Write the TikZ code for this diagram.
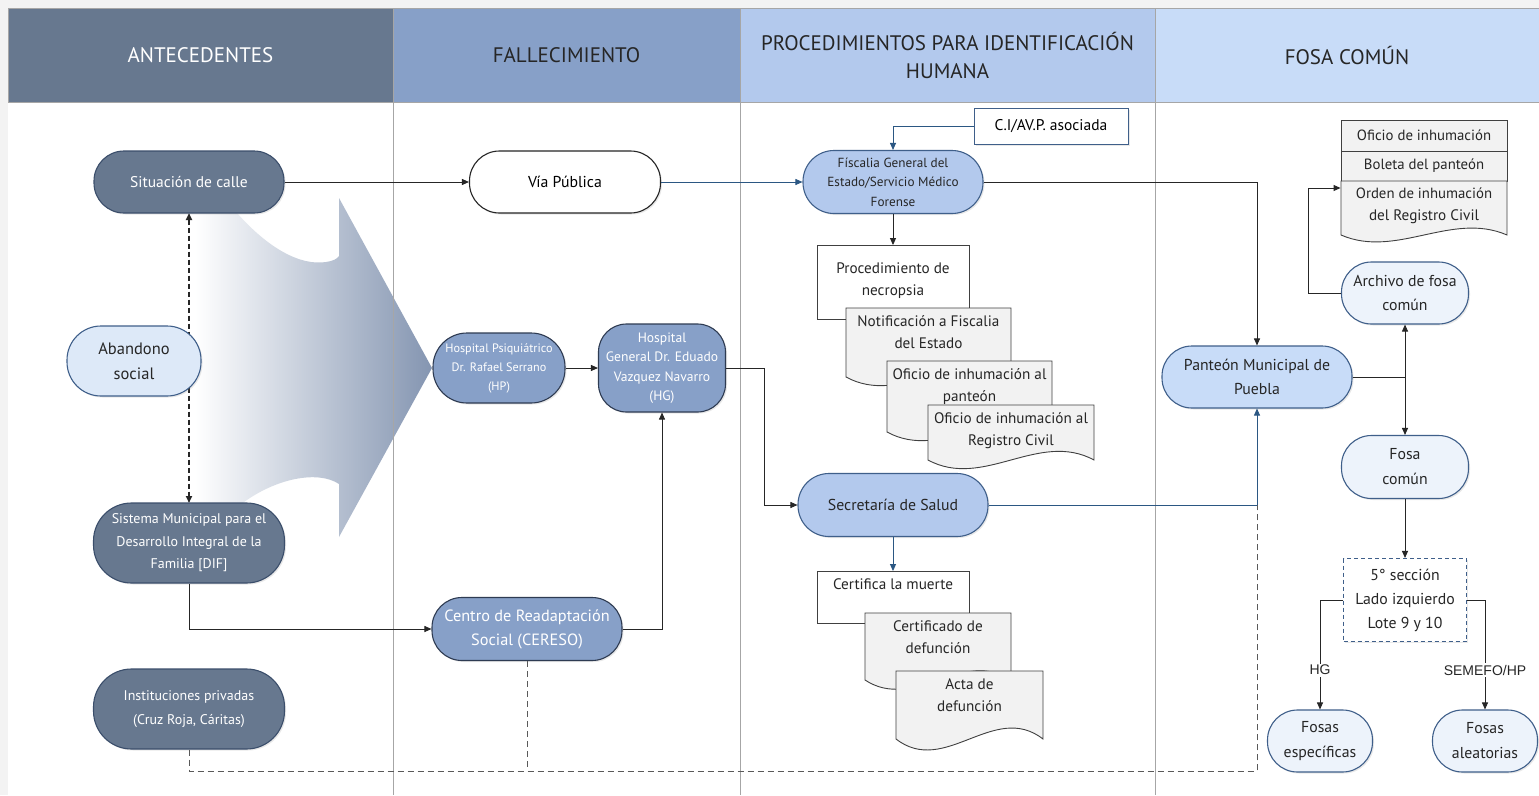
\documentclass[tikz,border=0pt]{standalone}
\usepackage{fontspec}
\setmainfont{PT Sans}
\newfontfamily\lblfont{Liberation Sans}
\usetikzlibrary{arrows.meta,shadows,calc}
\definecolor{cDark}{HTML}{67788F}
\definecolor{cDarkB}{HTML}{3B4E6B}
\definecolor{cMid}{HTML}{87A0C8}
\definecolor{cMidB}{HTML}{2E3B52}
\definecolor{cLight}{HTML}{B3C9ED}
\definecolor{cLightB}{HTML}{3F5F8A}
\definecolor{cPant}{HTML}{C8DCF8}
\definecolor{cPale}{HTML}{DDE9F8}
\definecolor{cVPale}{HTML}{EDF3FB}
\definecolor{hA}{HTML}{67788F}
\definecolor{hB}{HTML}{87A0C8}
\definecolor{hC}{HTML}{B3C9ED}
\definecolor{hD}{HTML}{C8DCF8}
\definecolor{cDoc}{HTML}{F2F2F2}
\definecolor{cBlue}{HTML}{2B5783}
\definecolor{cLane}{HTML}{A6A6A6}
\definecolor{cPage}{HTML}{F3F3F3}
\definecolor{cArrow}{HTML}{8495B1}
\newcommand{\setfs}[2]{\fontsize{#1}{#2}\selectfont}
\newcommand{\docbox}[7]{%
  \filldraw[docst] (#2,#3) -- (#4,#3) -- (#4,#5) .. controls ({#4-(#4-#2)/3},{#5-#6}) and ({#2+(#4-#2)/3},{#5+#6}) .. (#2,#5) -- cycle;
  \node[doctxt] (#1) at ({(#2+#4)/2},{#3+7}) {#7};
}
\begin{document}
\begin{tikzpicture}[x=1pt,y=-1pt,
  nshadow/.style={drop shadow={shadow xshift=1.5pt,shadow yshift=-1.5pt,opacity=0.18}},
  pill/.style={rectangle, align=center, inner sep=0pt, line width=1.1pt, nshadow},
  dark/.style={pill, fill=cDark, draw=cDarkB, text=white},
  mid/.style={pill, fill=cMid, draw=cMidB, text=white},
  light/.style={pill, fill=cLight, draw=cLightB, text=black!85},
  pant/.style={pill, fill=cPant, draw=cLightB, text=black!85},
  pale/.style={pill, fill=cPale, draw=cLightB, text=black!85},
  vpale/.style={pill, fill=cVPale, draw=cLightB, text=black!85},
  plainbox/.style={rectangle, draw=black!75, fill=white, line width=0.9pt, inner sep=0pt},
  hdr/.style={rectangle, draw=cLane, line width=0.8pt, minimum height=94pt, align=center, inner sep=0pt, font=\setfs{21}{28}},
  docst/.style={fill=cDoc, draw=black!75, line width=0.9pt},
  doctxt/.style={anchor=north, align=center, inner sep=0pt, font=\setfs{15.2}{22}, text=black!85},
  lane/.style={draw=cLane, line width=0.9pt},
  arr/.style={-{Triangle[length=7pt,width=6pt]}, line width=0.9pt, draw=black!85},
  barr/.style={-{Triangle[length=7pt,width=6pt]}, line width=0.9pt, draw=cBlue},
  dline/.style={line width=0.9pt, draw=black!65, dash pattern=on 6pt off 4pt},
  lbl/.style={font=\lblfont\setfs{14}{16}, fill=white, inner sep=1.5pt, text=black!85}
]
\useasboundingbox (0,0) rectangle (1539,795);
\fill[cPage] (0,0) rectangle (1539,795);
\fill[white] (8,8) rectangle (1539,795);
\coordinate (bot) at (0,795);

% big gradient arrow
\shade[left color=white, right color=cArrow] (195,213) -- (237,213) .. controls (268,248) and (300,266) .. (326,262) .. controls (333,261) and (337,259) .. (339,256) -- (339,198) -- (432,368) -- (339,537) -- (339,484) .. controls (318,470) and (275,478) .. (240,505) -- (195,505) -- cycle;

% headers
\node[hdr, fill=hA, text=white, minimum width=385pt] (hA) at (200.5,55) {ANTECEDENTES};
\node[hdr, fill=hB, text=black!85, minimum width=347pt] (hB) at (566.5,55) {FALLECIMIENTO};
\node[hdr, fill=hC, text=black!85, minimum width=415pt] (hC) at (947.5,55) {PROCEDIMIENTOS PARA IDENTIFICACIÓN\\HUMANA};
\node[hdr, fill=hD, text=black!85, minimum width=384pt] (hD) at (1347,55) {FOSA COMÚN};

% lanes
\draw[lane] (hA.south east) -- (hA.south east |- bot);
\draw[lane] (hB.south east) -- (hB.south east |- bot);
\draw[lane] (hC.south east) -- (hC.south east |- bot);

% dashed double arrow (behind nodes)
\coordinate (dtop) at (189,213);
\coordinate (dbot) at (189,503);
\draw[{Triangle[length=7pt,width=6pt]}-{Triangle[length=7pt,width=6pt]}, line width=1.6pt, black!85, dash pattern=on 5pt off 3pt] (dtop) -- (dbot);

% ANTECEDENTES nodes
\node[dark, rounded corners=30pt, minimum width=190pt, minimum height=62pt, font=\setfs{15.5}{22}] (sit) at (189,182) {Situación de calle};
\node[pale, rounded corners=34pt, minimum width=134pt, minimum height=70pt, font=\setfs{16.5}{25}] (aban) at (134,361) {Abandono\\social};
\node[dark, rounded corners=38pt, minimum width=191pt, minimum height=80pt, font=\setfs{14}{22.5}] (dif) at (189,543) {Sistema Municipal para el\\Desarrollo Integral de la\\Familia [DIF]};
\node[dark, rounded corners=38pt, minimum width=191pt, minimum height=80pt, font=\setfs{14}{24}] (inst) at (189,709) {Instituciones privadas\\(Cruz Roja, Cáritas)};

% FALLECIMIENTO nodes
\node[pill, fill=white, draw=black!85, rounded corners=30pt, minimum width=191pt, minimum height=62pt, font=\setfs{15.8}{22}] (via) at (565,182) {Vía Pública};
\node[mid, rounded corners=34pt, minimum width=132pt, minimum height=70pt, font=\setfs{12.2}{19}] (hp) at (499,368) {Hospital Psiquiátrico\\Dr. Rafael Serrano\\(HP)};
\node[mid, rounded corners=28pt, minimum width=127pt, minimum height=88pt, font=\setfs{13.6}{19.5}] (hg) at (662,368) {Hospital\\General Dr. Eduado\\Vazquez Navarro\\(HG)};
\node[mid, rounded corners=30pt, minimum width=190pt, minimum height=63pt, font=\setfs{16.3}{24}] (cer) at (527,629) {Centro de Readaptación\\Social (CERESO)};

% PROCEDIMIENTOS nodes
\node[light, rounded corners=31pt, minimum width=180pt, minimum height=63pt, font=\setfs{13.2}{19.5}] (fisc) at (893,182) {Físcalia General del\\Estado/Servicio Médico\\Forense};
\node[plainbox, draw=cLightB, minimum width=154pt, minimum height=36pt, font=\setfs{15.5}{20}, nshadow] (ci) at (1051,126) {C.I/AV.P. asociada};
\node[plainbox, minimum width=152pt, minimum height=74pt] (proc) at (893,282.5) {};
\node[doctxt] (proct) at (893,263) {Procedimiento de\\necropsia};
\docbox{notif}{846}{308}{1011}{377}{30}{Notificación a Fiscalia\\del Estado}
\docbox{ofpan}{887}{361}{1052}{432}{30}{Oficio de inhumación al\\panteón}
\docbox{ofrc}{928}{405}{1094}{460}{30}{Oficio de inhumación al\\Registro Civil}
\node[light, rounded corners=31pt, minimum width=190pt, minimum height=63pt, font=\setfs{15.8}{22}] (sec) at (893,505) {Secretaría de Salud};
\node[plainbox, minimum width=152pt, minimum height=52pt] (cert) at (893,597.5) {};
\node[doctxt] (certt) at (893,578) {Certifica la muerte};
\docbox{certdef}{865}{613}{1011}{680}{32}{Certificado de\\defunción}
\docbox{acta}{896}{671}{1043}{739}{38}{Acta de\\defunción}

% FOSA COMUN nodes
\node[pant, rounded corners=30pt, minimum width=190pt, minimum height=62pt, font=\setfs{15.8}{24}] (pant) at (1257,377) {Panteón Municipal de\\Puebla};
\node[rectangle, fill=cDoc, draw=black!75, line width=0.9pt, minimum width=166pt, minimum height=31pt, inner sep=0pt, font=\setfs{14.8}{20}, text=black!85] (r1) at (1424,135.5) {Oficio de inhumación};
\node[rectangle, fill=cDoc, draw=black!75, line width=0.9pt, minimum width=166pt, minimum height=30pt, inner sep=0pt, font=\setfs{14.8}{20}, text=black!85] (r2) at (1424,166) {Boleta del panteón};
\docbox{r3}{1341}{181}{1507}{235}{24}{\setfs{14.8}{22}Orden de inhumación\\del Registro Civil}
\node[vpale, rounded corners=30pt, minimum width=127pt, minimum height=62pt, font=\setfs{15.8}{24}] (arch) at (1405,293) {Archivo de fosa\\común};
\node[vpale, rounded corners=30pt, minimum width=127pt, minimum height=63pt, font=\setfs{15.8}{25}] (fosa) at (1405,467) {Fosa\\común};
\node[rectangle, fill=white, draw=cLightB, line width=1.1pt, dash pattern=on 4pt off 3pt, minimum width=123pt, minimum height=83pt, inner sep=0pt, align=center, font=\setfs{15.8}{24}, text=black!85, nshadow] (s5) at (1405,600) {5° sección\\Lado izquierdo\\Lote 9 y 10};
\node[vpale, rounded corners=30pt, minimum width=105pt, minimum height=62pt, font=\setfs{15.8}{25}] (fe) at (1320,741) {Fosas\\específicas};
\node[vpale, rounded corners=30pt, minimum width=105pt, minimum height=62pt, font=\setfs{15.8}{25}] (fa) at (1485,741) {Fosas\\aleatorias};

% connectors
\draw[arr] (sit.east) -- (via.west);
\draw[barr] (via.east) -- (fisc.west);
\draw[barr] (ci.west) -| (fisc.north);
\draw[arr] (fisc.south) -- (proc.north);
\draw[arr] (fisc.east) -| (pant.north);
\draw[arr] (hp.east) -- (hg.west);
\draw[arr] (hg.east) -- ([xshift=38pt]hg.east) |- (sec.west);
\draw[arr] (cer.east) -| (hg.south);
\draw[arr] (dif.south) |- (cer.west);
\draw[barr] (sec.east) -| (pant.south);
\draw[barr] (sec.south) -- (cert.north);
\coordinate (dj) at (1257,771);
\draw[dline] (inst.south) |- (dj) -- (pant.south |- sec.east);
\draw[dline] (cer.south) -- (cer.south |- dj);
\draw[arr] (pant.east) -| (arch.south);
\draw[arr] (pant.east) -| (fosa.north);
\draw[arr] (arch.west) -- ([xshift=-33pt]arch.west) |- (r1.south west |- r3.north);
\draw[arr] (fosa.south) -- (s5.north);
\draw[arr] (s5.west) -| (fe.north) node[lbl, pos=0.82] (lhg) {HG};
\draw[arr] (s5.east) -| (fa.north) node[lbl, pos=0.82] (lsem) {SEMEFO/HP};
\end{tikzpicture}
\end{document}
